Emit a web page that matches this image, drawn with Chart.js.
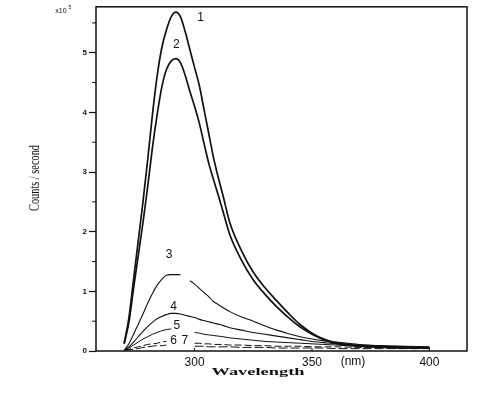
<!DOCTYPE html>
<html>
<head>
<meta charset="utf-8">
<script src="https://cdn.jsdelivr.net/npm/chart.js@4.4.0/dist/chart.umd.min.js"></script>
<style>
body { margin: 0; background: #fff; }
#wrap { width: 478px; height: 395px; position: relative; }
</style>
</head>
<body>
<div id="wrap"><canvas id="chart"></canvas></div>
<script>
// wavelengths (nm) shared by the seven emission spectra
const wavelengths = [270, 272, 274, 276, 278, 280, 282, 284, 286, 288, 290, 292, 294, 296, 298, 300, 302, 304, 306, 308, 310, 312, 315, 320, 325, 330, 335, 340, 345, 350, 355, 360, 370, 380, 390, 400];

// counts / second, in units of 1e5 (null = gap in the trace)
const curve1 = [0.13, 0.55, 1.2, 1.85, 2.5, 3.2, 3.95, 4.6, 5.08, 5.38, 5.6, 5.68, 5.6, 5.35, 5.05, 4.75, 4.45, 4.05, 3.65, 3.25, 2.92, 2.62, 2.15, 1.68, 1.32, 1.06, 0.84, 0.63, 0.44, 0.3, 0.2, 0.14, 0.09, 0.07, 0.06, 0.05];
const curve2 = [0.12, 0.48, 1.05, 1.6, 2.15, 2.75, 3.4, 3.95, 4.42, 4.72, 4.86, 4.9, 4.83, 4.62, 4.35, 4.1, 3.82, 3.48, 3.15, 2.88, 2.62, 2.35, 1.95, 1.52, 1.19, 0.95, 0.74, 0.56, 0.4, 0.28, 0.19, 0.13, 0.08, 0.06, 0.05, 0.05];
const curve3 = [0.01, 0.12, 0.28, 0.45, 0.62, 0.8, 0.96, 1.1, 1.2, 1.27, 1.28, 1.28, 1.28, null, 1.18, 1.12, 1.05, 0.98, 0.91, 0.83, 0.78, 0.73, 0.66, 0.57, 0.5, 0.42, 0.35, 0.29, 0.24, 0.2, 0.17, 0.15, 0.11, 0.09, 0.08, 0.07];
const curve4 = [0.01, 0.07, 0.15, 0.24, 0.33, 0.41, 0.48, 0.54, 0.58, 0.61, 0.63, 0.63, 0.62, 0.6, 0.58, 0.56, 0.53, 0.51, 0.49, 0.47, 0.45, 0.43, 0.39, 0.35, 0.31, 0.28, 0.25, 0.22, 0.19, 0.16, 0.14, 0.12, 0.1, 0.08, 0.07, 0.06];
const curve5 = [0.01, 0.05, 0.1, 0.15, 0.2, 0.24, 0.28, 0.31, 0.34, 0.36, 0.37, null, null, null, null, 0.31, 0.3, 0.28, 0.27, 0.26, 0.25, 0.24, 0.22, 0.2, 0.18, 0.16, 0.15, 0.14, 0.13, 0.12, 0.11, 0.1, 0.08, 0.07, 0.06, 0.05];
const curve6 = [0.01, 0.03, 0.05, 0.07, 0.09, 0.11, 0.12, 0.13, 0.15, 0.16, null, null, null, null, null, 0.13, 0.13, 0.12, 0.12, 0.11, 0.11, 0.11, 0.1, 0.1, 0.09, 0.09, 0.08, 0.08, 0.08, 0.07, 0.07, 0.07, 0.06, 0.06, 0.05, 0.05];
const curve7 = [0.01, 0.02, 0.03, 0.04, 0.06, 0.07, 0.08, 0.09, 0.09, 0.1, null, null, null, null, null, 0.08, 0.08, 0.08, 0.07, 0.07, 0.07, 0.07, 0.07, 0.06, 0.06, 0.06, 0.05, 0.05, 0.05, 0.05, 0.05, 0.04, 0.04, 0.04, 0.04, 0.04];

const xTicks = [300, 350, 400];
const yTicks = [0, 1, 2, 3, 4, 5];
const yMinor = [0.5, 1.5, 2.5, 3.5, 4.5, 5.5];

// curve numbers, placed in data units
const curveNames = ['1', '2', '3', '4', '5', '6', '7'];
const nameX = [302.5, 292.2, 289.1, 291, 292.4, 291, 295.8];
const nameY = [5.58, 5.14, 1.62, 0.74, 0.42, 0.17, 0.17];

function series(vals, width, dash) {
    return {
        data: vals.map((v, i) => ({x: wavelengths[i], y: v})),
        borderColor: '#111',
        borderWidth: width,
        borderDash: dash || [],
        cubicInterpolationMode: 'monotone',
        spanGaps: false,
        pointRadius: 0
    };
}

// frame, minor ticks and all the loose text
const decor = {
    id: 'decor',
    afterDraw(chart) {
        const ctx = chart.ctx;
        const a = chart.chartArea;
        const xs = chart.scales.x, ys = chart.scales.y;
        ctx.save();
        ctx.strokeStyle = '#111';
        ctx.lineWidth = 1.5;
        ctx.strokeRect(a.left, a.top, a.right - a.left, a.bottom - a.top);

        ctx.lineWidth = 1;
        yMinor.forEach(v => {
            const y = ys.getPixelForValue(v);
            ctx.beginPath(); ctx.moveTo(a.left - 4, y); ctx.lineTo(a.left, y); ctx.stroke();
        });
        xTicks.forEach(v => {
            const x = xs.getPixelForValue(v);
            ctx.beginPath(); ctx.moveTo(x, a.bottom); ctx.lineTo(x, a.bottom - 3); ctx.stroke();
        });

        ctx.fillStyle = '#111';
        ctx.textAlign = 'center';
        ctx.textBaseline = 'middle';
        ctx.font = '12px "Liberation Sans"';
        curveNames.forEach((t, i) => {
            ctx.fillText(t, xs.getPixelForValue(nameX[i]), ys.getPixelForValue(nameY[i]));
        });

        // multiplier
        ctx.font = '7px "Liberation Sans"';
        ctx.fillText('x10', 61, 11);
        ctx.font = '5px "Liberation Sans"';
        ctx.fillText('5', 70, 8);

        // (nm)
        ctx.font = '12px "Liberation Sans"';
        ctx.fillText('(nm)', 353, 362);

        // y title, narrow serif
        ctx.save();
        ctx.translate(35, 178);
        ctx.rotate(-Math.PI / 2);
        ctx.font = '14px "Liberation Serif"';
        let w = ctx.measureText('Counts / second').width;
        ctx.scale(66 / w, 1);
        ctx.fillText('Counts / second', 0, 0);
        ctx.restore();

        // x title, wide bold serif
        ctx.save();
        ctx.translate(258, 372);
        ctx.font = 'bold 11px "Liberation Serif"';
        w = ctx.measureText('Wavelength').width;
        ctx.scale(93 / w, 1);
        ctx.fillText('Wavelength', 0, 0);
        ctx.restore();

        ctx.restore();
    }
};

new Chart(document.getElementById('chart'), {
    type: 'line',
    data: {
        datasets: [
            series(curve1, 1.7),
            series(curve2, 1.7),
            series(curve3, 1.1),
            series(curve4, 1.1),
            series(curve5, 1),
            series(curve6, 1, [7, 3]),
            series(curve7, 1, [9, 3])
        ]
    },
    plugins: [decor],
    options: {
        responsive: true,
        maintainAspectRatio: false,
        animation: false,
        layout: {padding: {top: 5, right: 11, left: 0, bottom: 0}},
        plugins: {legend: {display: false}, tooltip: {enabled: false}},
        scales: {
            x: {
                type: 'linear',
                min: 258,
                max: 416,
                afterBuildTicks: s => { s.ticks = xTicks.map(v => ({value: v})); },
                afterFit: s => { s.height = 44; },
                grid: {drawOnChartArea: false, drawTicks: false},
                border: {display: false},
                ticks: {font: {family: 'Liberation Sans', size: 12}, color: '#111', padding: 4}
            },
            y: {
                min: 0,
                max: 5.77,
                afterBuildTicks: s => { s.ticks = yTicks.map(v => ({value: v})); },
                afterFit: s => { s.width = 96; },
                grid: {drawOnChartArea: false, tickLength: 7, tickColor: '#111', tickWidth: 1.2},
                border: {display: false},
                ticks: {font: {family: 'Liberation Sans', size: 8, weight: 'bold'}, color: '#111', padding: 2}
            }
        }
    }
});
</script>
</body>
</html>
